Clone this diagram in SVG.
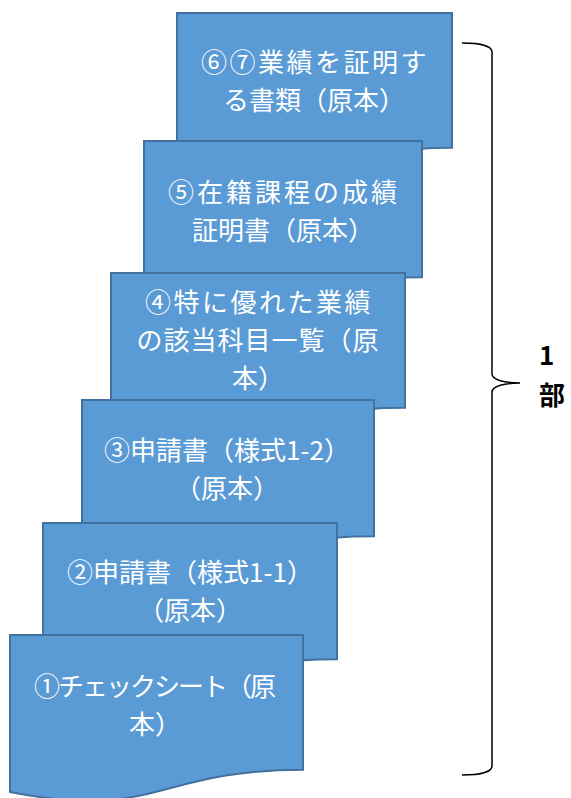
<svg xmlns="http://www.w3.org/2000/svg" width="571" height="798" viewBox="0 0 571 798">
<style>
.doc{fill:#5B9BD5;stroke:#41719C;stroke-width:2}
.t{fill:#FFFFFF;font-family:"Noto Sans CJK JP","Noto Sans",sans-serif;font-size:26px;text-anchor:middle}
.b{fill:#000000;font-family:"Noto Sans CJK JP","Noto Sans",sans-serif;font-size:26px;font-weight:bold}
</style>
<rect width="571" height="798" fill="#FFFFFF"/>
<g id="node6">
<path class="doc" d="M177,13 H452 V147.7 C314.5,147.7 314.5,199 177,169.9 Z"/>
<text class="t"><tspan x="315" y="71.5" letter-spacing="2.5">⑥⑦業績を証明す</tspan><tspan x="314" y="109.5">る書類（原本）</tspan></text>
</g>
<g id="node5">
<path class="doc" d="M144,141 H422 V277.3 C283,277.3 283,329.3 144,299.8 Z"/>
<text class="t"><tspan x="284" y="201.5" letter-spacing="3">⑤在籍課程の成績</tspan><tspan x="283" y="239.5">証明書（原本）</tspan></text>
</g>
<g id="node4">
<path class="doc" d="M111,273 H405 V407.7 C258,407.7 258,459 111,429.9 Z"/>
<text class="t"><tspan x="259" y="312" letter-spacing="2.5">④特に優れた業績</tspan><tspan x="258" y="350" letter-spacing="1">の該当科目一覧（原</tspan><tspan x="258" y="388">本）</tspan></text>
</g>
<g id="node3">
<path class="doc" d="M82,400 H374 V536.3 C228,536.3 228,588.3 82,558.8 Z"/>
<text class="t"><tspan x="227" y="460">③申請書（様式1-2）</tspan><tspan x="227" y="498">（原本）</tspan></text>
</g>
<g id="node2">
<path class="doc" d="M43,523 H337 V659.3 C190,659.3 190,711.3 43,681.8 Z"/>
<text class="t"><tspan x="190" y="582">②申請書（様式1-1）</tspan><tspan x="190" y="620">（原本）</tspan></text>
</g>
<g id="node1">
<path class="doc" d="M10,635 H303 V769.7 C156.5,769.7 156.5,821 10,791.9 Z"/>
<text class="t"><tspan x="154" y="696" letter-spacing="-2">①チェックシート（原</tspan><tspan x="155" y="734">本）</tspan></text>
</g>
<g id="connectors">
<path d="M462,43 C480,43 492,46 492,52 L492,374 C492,380 505,383 520,383 C505,383 492,386 492,392 L492,766 C492,772 480,775 462,775" fill="none" stroke="#000000" stroke-width="1.5"/>
</g>
<g id="label">
<text class="b"><tspan x="539" y="365">1</tspan><tspan x="539" y="405">部</tspan></text>
</g>
</svg>
